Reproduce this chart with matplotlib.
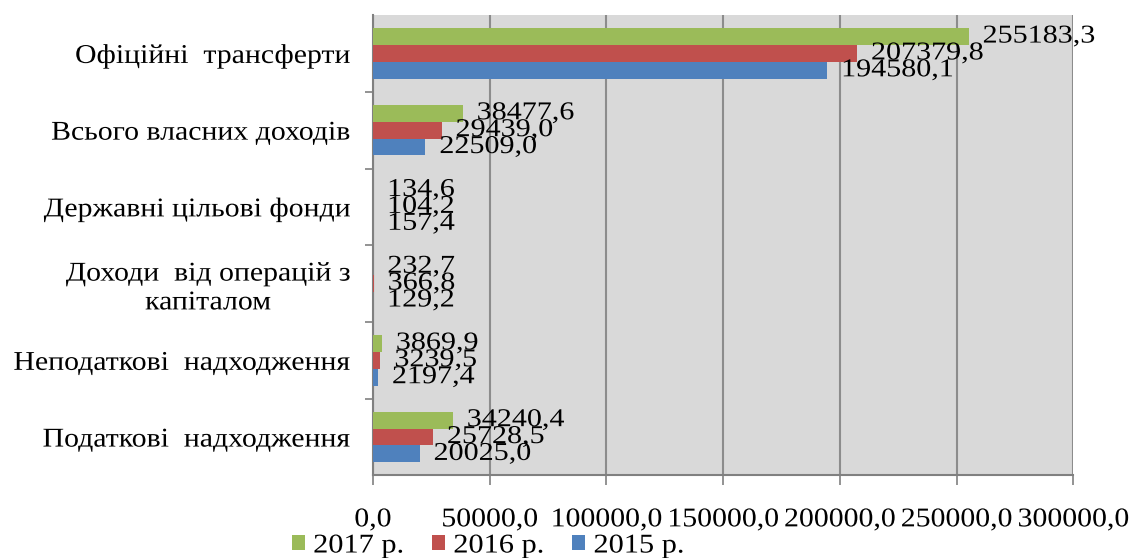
import numpy as np
import matplotlib.pyplot as plt
from matplotlib.patheffects import AbstractPathEffect
from matplotlib.transforms import Affine2D

plt.rcParams['font.family'] = ['Liberation Serif', 'DejaVu Serif']

# categories listed bottom to top
categories = ['Податкові  надходження', 'Неподаткові  надходження',
              'Доходи  від операцій з\nкапіталом', 'Державні цільові фонди',
              'Всього власних доходів', 'Офіційні  трансферти']
v2017 = [34240.4, 3869.9, 232.7, 134.6, 38477.6, 255183.3]
v2016 = [25728.5, 3239.5, 366.8, 104.2, 29439.0, 207379.8]
v2015 = [20025.0, 2197.4, 129.2, 157.4, 22509.0, 194580.1]
series = [('2017 р.', v2017, '#9bbb59'),
          ('2016 р.', v2016, '#c0504d'),
          ('2015 р.', v2015, '#4f81bd')]
xticks = [0, 50000, 100000, 150000, 200000, 250000, 300000]


def fmt(v):
    return f'{v:.1f}'.replace('.', ',')


class StretchX(AbstractPathEffect):
    """Widen a text horizontally around its alignment point."""

    def __init__(self, text, sx):
        super().__init__()
        self.text = text
        self.sx = sx

    def draw_path(self, renderer, gc, tpath, affine, rgbFace=None):
        bb = self.text.get_window_extent(renderer)
        ha = self.text.get_horizontalalignment()
        x0 = {'left': bb.x0, 'right': bb.x1}.get(ha, (bb.x0 + bb.x1) / 2)
        t = affine + Affine2D().translate(-x0, 0).scale(self.sx, 1).translate(x0, 0)
        renderer.draw_path(gc, tpath, t, rgbFace)


def stretch(texts, sx):
    for t in texts:
        t.set_path_effects([StretchX(t, sx)])


fig = plt.figure(figsize=(11.37, 5.58), dpi=100)
ax = fig.add_axes([0.328, 0.148, 0.616, 0.825])
ax.set_facecolor('#d9d9d9')

y = np.arange(len(categories))
h = 0.22
offsets = [h, 0, -h]
labels = []
for (name, vals, col), off in zip(series, offsets):
    bars = ax.barh(y + off, vals, height=h, color=col, label=name, zorder=3)
    for b, v in zip(bars, vals):
        t = ax.annotate(fmt(v), (b.get_width(), b.get_y() + b.get_height() / 2),
                        xytext=(10, 0), textcoords='offset points',
                        va='center', ha='left', fontsize=18.5, color='black', zorder=4)
        labels.append(t)
stretch(labels, 1.17)

ax.set_xlim(0, 300000)
ax.set_ylim(-0.5, len(categories) - 0.5)
ax.set_xticks(xticks)
ax.set_xticklabels([fmt(t) for t in xticks], fontsize=19.5)
ax.tick_params(axis='x', length=7, width=1.2, color='#808080', pad=16)
ax.grid(axis='x', color='#8c8c8c', linewidth=1.5, zorder=1)
stretch(ax.get_xticklabels(), 1.1)

ax.set_yticks(y)
ax.set_yticklabels(categories, fontsize=19.5, multialignment='center')
ax.tick_params(axis='y', length=0, pad=16)
ax.set_yticks(np.arange(-0.5, len(categories) - 0.5, 1)[1:], minor=True)
ax.tick_params(axis='y', which='minor', length=6, width=1.2, color='#808080')
stretch(ax.get_yticklabels(), 1.1)

for s in ['top', 'right']:
    ax.spines[s].set_visible(False)
for s in ['left', 'bottom']:
    ax.spines[s].set_color('#808080')
    ax.spines[s].set_linewidth(1.5)

leg = fig.legend(loc='center left', bbox_to_anchor=(292 / 1137, 1 - 546 / 558), ncol=3,
                 frameon=False, fontsize=19.5, handlelength=0.48, handleheight=0.48,
                 handletextpad=0.3, columnspacing=1.4, borderaxespad=0, borderpad=0)
stretch(leg.get_texts(), 1.12)

fig.savefig('out.png', dpi=100)
